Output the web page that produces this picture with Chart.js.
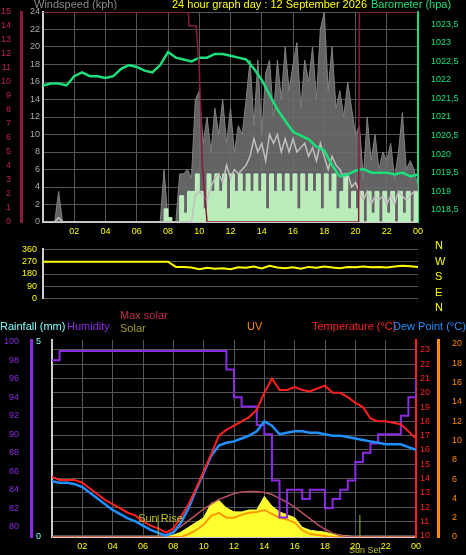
<!DOCTYPE html>
<html><head><meta charset="utf-8">
<script src="https://cdn.jsdelivr.net/npm/chart.js@4"></script>
<style>
body{margin:0;background:#000;width:466px;height:555px;overflow:hidden;position:relative;font-family:"Liberation Sans",Arial,sans-serif}
.w{position:absolute;left:0;width:466px}
.t{position:absolute;font-size:11px;white-space:nowrap}
</style></head><body>
<div class="w" style="top:0;height:240px"><canvas id="c1" width="466" height="240"></canvas></div>
<div class="w" style="top:238px;height:72px"><canvas id="c2" width="466" height="72"></canvas></div>
<div class="w" style="top:310px;height:245px"><canvas id="c3" width="466" height="245"></canvas></div>
<div class="t" style="left:34px;top:-2px;color:#888">Windspeed (kph)</div>
<div class="t" style="left:172px;top:-2px;color:#ff0">24 hour graph day : 12 September 2026</div>
<div class="t" style="left:371px;top:-2px;color:#19e07a">Barometer (hpa)</div>
<div class="t" style="left:0px;top:320px;color:#7fffff">Rainfall (mm)</div>
<div class="t" style="left:67px;top:320px;color:#8a2be2">Humidity</div>
<div class="t" style="left:120px;top:309px;color:#c0304a">Max solar</div>
<div class="t" style="left:120px;top:322px;color:#a0a020">Solar</div>
<div class="t" style="left:247px;top:320px;color:#ff8c00">UV</div>
<div class="t" style="left:312px;top:320px;color:#ff2020">Temperature (°C)</div>
<div class="t" style="left:393px;top:320px;color:#1e90ff">Dew Point (°C)</div>
<div class="t" style="left:435px;top:238px;color:#ff0;line-height:15.5px">N<br>W<br>S<br>E<br>N</div>
<script>
// ---- data ----
const gust=[0,0,0,0, 3.5,0,0,0, 0,0,0,0, 0,0,0,0, 0,0,0,0, 0,0,0,0, 0,0,0,0, 0,0,0,6, 0,0,0,5.5,
 5.5,6,5,14, 15,9,12,8, 13,10,14,9, 13,8,11,10, 14,18.5,11,18.5, 10,17,18.5,12, 18.5,14,20,15,
 18,20.5,13,18.5, 16,20,14,22, 24,15,20,13, 15,12,16,13, 10,11,5,12, 7,10,6,8, 7,9,5,8, 12.5,6,7,6, 4];
const avgWind=[0,0,0,0, 0.5,0,0,0, 0,0,0,0, 0,0,0,0, 0,0,0,0, 0,0,0,0, 0,0,0,0, 0,0,0,0, 0,0,0,0,
 0,0,0,3, 3.5,3,2.5,4, 5,5.5,4.5,6.5, 5,6,5.5,6, 6.5,7.5,9.5,8, 9,7,10,9, 10,8,9.5,8,
 9.5,8,8.5,9, 7.5,8.5,7,9, 7.5,6,7.5,6.5, 6,5,5.5,4, 4.5,3.5,2.5,3.5, 2,3,2.5,3, 2,3,2,3.5, 3,2.5,3,3.5, 3.5];
const windSpeed=[0,0,0,0, 0,0,0,0, 0,0,0,0, 0,0,0,0, 0,0,0,0, 0,0,0,0, 0,0,0,0, 0,0,0,1.5, 0.5,0,0,3,
 1,3.5,3.5,5.5, 3.5,1.5,5.5,3.5, 5.5,3.5,5.5,1.5, 5.5,3.5,5.5,3.5, 5.5,3.5,5.5,3.5, 5.5,1.5,5.5,3.5, 5.5,3.5,5.5,3.5,
 5.5,1.5,5.5,3.5, 5.5,3.5,5.5,1.5, 5.5,3.5,5.5,1.5, 3.5,5.5,1.5,3.5, 1.5,3.5,0,3.5, 1,3.5,0,3.5, 1,3.5,0,3.5, 1,3.5,0,3.5, 1];
const baro=[1021.85,1021.9,1021.9,1021.85,1022.1,1022.2,1022.1,1022.1,1022.05,1022.1,1022.3,1022.4,1022.35,1022.25,1022.2,1022.4,
 1022.75,1022.6,1022.55,1022.5,1022.6,1022.6,1022.7,1022.7,1022.65,1022.6,1022.55,1022.3,1022.0,1021.6,1021.2,1020.9,
 1020.6,1020.5,1020.4,1020.2,1020.1,1019.7,1019.4,1019.45,1019.55,1019.6,1019.5,1019.5,1019.5,1019.45,1019.5,1019.4,1019.45];
const crimsonHours=[0,9.3,9.35,9.8,10.0,10.2,10.5,20.2,20.25,24];
const crimsonVals=[15,15,14,14,11,4,0,0,15,15];
const direction=[270,270,270,270,270,270,270,270,270,270,270,270,270,270,270,270,
 270,232,232,228,215,225,218,222,215,230,225,235,220,240,228,222,230,218,232,225,235,228,222,232,230,235,230,232,228,235,240,236,232];
const temperature=[14.1,13.9,13.9,13.9,13.7,13.3,12.9,12.5,12.2,11.9,11.6,11.4,11.0,10.7,10.5,10.2,10.5,11.3,12.2,13.3,14.5,15.7,17.0,17.4,
 17.7,18.0,18.3,18.8,20.0,21.0,20.2,20.2,20.4,20.2,20.1,20.3,20.5,20.0,20.0,19.7,19.3,19.0,18.2,18.0,18.0,17.9,17.8,17.3,16.8];
const dewPoint=[13.8,13.7,13.7,13.6,13.4,13.0,12.6,12.2,11.8,11.5,11.2,11.0,10.7,10.4,10.2,10.0,10.2,10.9,11.9,13.2,14.4,15.6,16.3,16.5,
 16.6,16.8,17.0,17.3,18.0,17.7,17.1,17.2,17.3,17.3,17.2,17.2,17.1,17.0,17.0,16.9,16.8,16.7,16.6,16.5,16.4,16.4,16.4,16.2,16.0];
const humidity=[98,99, 99,99,99,99,99,99,99,99,99,99,99,99,99,99,99,99,99,99,99,99,
 99,97,94,93,93,91,90,85,81,84,84,83,84,84,82,83,84,85,87,88,89,90,90,90,92,94,96];
const solar=[0,0,0,0,0,0,0,0,0,0,0,0,0,0,0,0, 0.2,0.5,1.0,1.5,2.0,3.5,3.8,3.0,2.6,2.6,2.8,2.8,4.2,3.2,2.6,2.3,2.0,1.0,0.7,0.6,0.5,0.3,0.2,0.1, 0,0,0,0,0,0,0,0,0];
const uv=[0,0,0,0,0,0,0,0,0,0,0,0,0,0,0,0,0,0, 0.3,0.7,1.3,2.2,2.5,2.0,2.0,2.3,2.5,2.6,2.8,2.4,2.0,1.8,1.5,0.7,0.3,0.2,0.1, 0,0,0,0,0,0,0,0,0,0,0,0];
const maxSolar=[0,0,0,0,0,0,0,0,0,0,0,0,0,0,0, 0.2,0.6,1.1,1.7,2.3,2.9,3.4,3.9,4.2,4.5,4.65,4.7,4.7,4.6,4.4,4.0,3.6,3.1,2.5,1.9,1.3,0.8,0.4,0.15,0.05, 0,0,0,0,0,0,0,0,0];
const rain=[0,0,0,0,0,0,0,0,0,0,0,0,0,0,0,0,0,0,0,0,0,0,0,0, 0.2,0.2,0.2,0.2,0.2,0.2,0.2,0.2,0.2,0.2,0.2,0.2,0.2,0.2,0.2,0.2,0.2,0.2,0.2,0.2,0.2,0.2,0.2,0.35, 0.35];
const hourTicks=['02','04','06','08','10','12','14','16','18','20','22','00'];
const sunRise=7.0, sunSet=20.3;

// ---- helpers ----
const q=(arr)=>arr.map((v,i)=>({x:i*0.25,y:v}));
const h=(arr)=>arr.map((v,i)=>({x:i*0.5,y:v}));
Chart.defaults.font.family='"Liberation Sans",Arial,sans-serif';
Chart.defaults.font.size=9;
Chart.defaults.animation=false;
const grid={color:'#555',borderDash:[1,2],drawTicks:false};
const fit=(w)=>function(s){s.width=w;};
const fitH=(hh)=>function(s){s.height=hh;};
const xAxis=(col)=>({type:'linear',min:0,max:24,afterFit:fitH(18),
  afterBuildTicks:s=>{s.ticks=[];for(let v=2;v<=24;v+=2)s.ticks.push({value:v});},
  ticks:{color:col,padding:4,autoSkip:false,maxRotation:0,callback:(v)=>hourTicks[v/2-1]},
  grid:grid,border:{color:'#ccc',width:2}});
const common={responsive:false,animation:false,plugins:{legend:{display:false},tooltip:{enabled:false}},elements:{point:{radius:0}}};

// ---- top chart ----
new Chart(document.getElementById('c1'),{type:'line',data:{datasets:[
 {data:crimsonHours.map((x,i)=>({x,y:crimsonVals[i]})),yAxisID:'m',borderColor:'#8b1a3a',borderWidth:1.5,fill:false},
 {data:h(baro),yAxisID:'b',borderColor:'#19e07a',borderWidth:2.5,fill:false},
 {data:q(avgWind),yAxisID:'w',borderColor:'#c0c0c0',borderWidth:1.5,fill:false},
 {data:q(windSpeed),yAxisID:'w',borderColor:'#c8f0c8',backgroundColor:'#b8ecb8',fill:'origin',borderWidth:1,stepped:true},
 {data:q(gust),yAxisID:'w',borderColor:'#808080',backgroundColor:'rgba(110,110,110,0.9)',fill:'origin',borderWidth:1}
]},options:{...common,layout:{padding:{top:12,right:0,left:0,bottom:0}},scales:{
 x:xAxis('#ff0'),
 w:{position:'left',min:0,max:24,afterFit:fit(22),ticks:{stepSize:2,color:'#aaa',padding:3},grid:grid,border:{color:'#ccc',width:2}},
 m:{position:'left',min:0,max:15,afterFit:fit(21),ticks:{stepSize:1,color:'#c02050',padding:2},grid:{display:false},border:{color:'#8b1a3a',width:3}},
 b:{position:'right',min:1018.17,max:1023.83,afterFit:fit(48),afterBuildTicks:s=>{s.ticks=[];for(let v=1018.5;v<=1023.5;v+=0.5)s.ticks.push({value:v});},
   ticks:{color:'#19e07a',padding:5,callback:v=>String(v).replace('.',',')},grid:{display:false},border:{color:'#19e07a',width:2}}
}}});

// ---- middle chart ----
new Chart(document.getElementById('c2'),{type:'line',data:{datasets:[
 {data:h(direction),borderColor:'#ffff00',borderWidth:2,fill:false}]},
 options:{...common,layout:{padding:{top:8,right:48,bottom:6}},scales:{
 x:{type:'linear',min:0,max:24,display:false},
 y:{min:0,max:360,afterFit:fit(43),ticks:{stepSize:90,color:'#ff0',padding:6},grid:{color:'#555',borderDash:[1,2],drawTicks:false},border:{color:'#ccc',width:2}}
}}});

// ---- bottom chart ----
const sunPlugin={id:'sun',afterDatasetsDraw(c){const x=c.scales.x,ctx=c.ctx,a=c.chartArea;
 ctx.save();ctx.strokeStyle='#b0b020';ctx.lineWidth=1;ctx.font='11px "Liberation Sans"';ctx.fillStyle='#c0c020';
 [sunRise,sunSet].forEach(t=>{const px=x.getPixelForValue(t);ctx.beginPath();ctx.moveTo(px,a.bottom);ctx.lineTo(px,a.bottom-22);ctx.stroke();});
 ctx.fillText('Sun Rise',x.getPixelForValue(sunRise)-20,a.bottom-15);
 ctx.font='9px "Liberation Sans"';ctx.fillText('Sun Set',x.getPixelForValue(sunSet)-11,a.bottom+16);ctx.restore();}};
new Chart(document.getElementById('c3'),{type:'line',plugins:[sunPlugin],data:{datasets:[
 {data:h(temperature),yAxisID:'t',borderColor:'#ff2020',borderWidth:2,fill:false},
 {data:h(dewPoint),yAxisID:'t',borderColor:'#1e90ff',borderWidth:2.5,fill:false},
 {data:h(humidity),yAxisID:'hm',borderColor:'#8a2be2',borderWidth:2,fill:false,stepped:true},
 {data:h(rain),yAxisID:'r',borderColor:'#80ffff',borderWidth:2,fill:false,stepped:true},
 {data:h(maxSolar),yAxisID:'u',borderColor:'#b85060',borderWidth:1.5,fill:false},
 {data:h(uv),yAxisID:'u',borderColor:'#ff9900',fill:false,borderWidth:2},
 {data:h(solar),yAxisID:'u',borderColor:'#ffff40',backgroundColor:'#ffff30',fill:'origin',borderWidth:1}
]},options:{...common,layout:{padding:{top:30,bottom:0}},scales:{
 x:xAxis('#ff0'),
 r:{position:'left',min:0,max:5.05,afterFit:fit(21),afterBuildTicks:s=>{s.ticks=[{value:0},{value:5}];},ticks:{color:'#7fffff',padding:3},grid:{display:false},border:{color:'#ccc',width:2}},
 hm:{position:'left',min:78.9,max:100.2,afterFit:fit(31),afterBuildTicks:s=>{s.ticks=[];for(let v=80;v<=100;v+=2)s.ticks.push({value:v});},ticks:{color:'#8a2be2',padding:4},grid:{display:false},border:{color:'#8a2be2',width:3}},
 t:{position:'right',min:9.9,max:23.7,afterFit:fit(22),afterBuildTicks:s=>{s.ticks=[];for(let v=10;v<=23;v++)s.ticks.push({value:v});},ticks:{color:'#ff2020',padding:4},grid:grid,border:{color:'#ff2020',width:2}},
 u:{position:'right',min:0,max:20.4,afterFit:fit(28),afterBuildTicks:s=>{s.ticks=[];for(let v=0;v<=20;v+=2)s.ticks.push({value:v});},ticks:{color:'#ff8c00',padding:6},grid:{display:false},border:{color:'#ff8c00',width:3}}
}}});
</script></body></html>
